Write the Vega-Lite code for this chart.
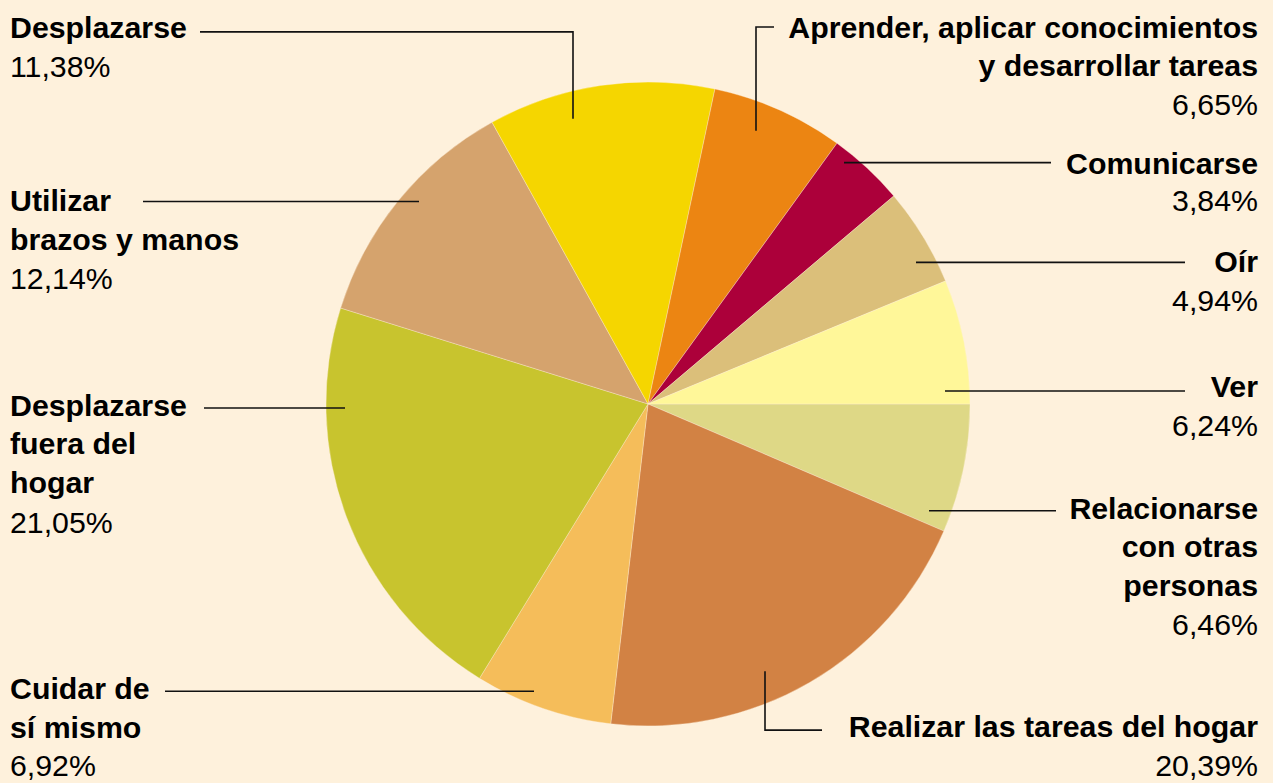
{
  "$schema": "https://vega.github.io/schema/vega-lite/v6.json",
  "width": 1273,
  "height": 783,
  "autosize": {"type": "fit", "contains": "padding"},
  "padding": 0,
  "background": "#FEF1DC",
  "config": {"view": {"stroke": null}},
  "datasets": {
    "sectores": [
      {"cat": "Relacionarse con otras personas", "pct": 6.46, "orden": 1},
      {"cat": "Realizar las tareas del hogar", "pct": 20.39, "orden": 2},
      {"cat": "Cuidar de sí mismo", "pct": 6.92, "orden": 3},
      {"cat": "Desplazarse fuera del hogar", "pct": 21.05, "orden": 4},
      {"cat": "Utilizar brazos y manos", "pct": 12.14, "orden": 5},
      {"cat": "Desplazarse", "pct": 11.38, "orden": 6},
      {"cat": "Aprender, aplicar conocimientos y desarrollar tareas", "pct": 6.65, "orden": 7},
      {"cat": "Comunicarse", "pct": 3.84, "orden": 8},
      {"cat": "Oír", "pct": 4.94, "orden": 9},
      {"cat": "Ver", "pct": 6.24, "orden": 10}
    ],
    "etiquetas": [
      {"cat": "Desplazarse", "lado": "izquierda", "nombre": ["Desplazarse"], "valor": "11,38%", "lx": -638, "ly": 367, "vy": 328},
      {"cat": "Utilizar brazos y manos", "lado": "izquierda", "nombre": ["Utilizar", "brazos y manos"], "valor": "12,14%", "lx": -638, "ly": 193, "vy": 115},
      {"cat": "Desplazarse fuera del hogar", "lado": "izquierda", "nombre": ["Desplazarse", "fuera del", "hogar"], "valor": "21,05%", "lx": -638, "ly": -12, "vy": -129},
      {"cat": "Cuidar de sí mismo", "lado": "izquierda", "nombre": ["Cuidar de", "sí mismo"], "valor": "6,92%", "lx": -638, "ly": -296, "vy": -373},
      {"cat": "Aprender, aplicar conocimientos y desarrollar tareas", "lado": "derecha", "nombre": ["Aprender, aplicar conocimientos", "y desarrollar tareas"], "valor": "6,65%", "lx": 610, "ly": 367, "vy": 290},
      {"cat": "Comunicarse", "lado": "derecha", "nombre": ["Comunicarse"], "valor": "3,84%", "lx": 610, "ly": 231, "vy": 193},
      {"cat": "Oír", "lado": "derecha", "nombre": ["Oír"], "valor": "4,94%", "lx": 610, "ly": 132, "vy": 93},
      {"cat": "Ver", "lado": "derecha", "nombre": ["Ver"], "valor": "6,24%", "lx": 610, "ly": 7, "vy": -32},
      {"cat": "Relacionarse con otras personas", "lado": "derecha", "nombre": ["Relacionarse", "con otras", "personas"], "valor": "6,46%", "lx": 610, "ly": -115, "vy": -232},
      {"cat": "Realizar las tareas del hogar", "lado": "derecha", "nombre": ["Realizar las tareas del hogar"], "valor": "20,39%", "lx": 610, "ly": -334, "vy": -373}
    ],
    "guias": [
      {"cat": "Desplazarse", "paso": 1, "gx": -448, "gy": 373},
      {"cat": "Desplazarse", "paso": 2, "gx": -75, "gy": 373},
      {"cat": "Desplazarse", "paso": 3, "gx": -75, "gy": 286},
      {"cat": "Aprender", "paso": 1, "gx": 126, "gy": 378},
      {"cat": "Aprender", "paso": 2, "gx": 108, "gy": 378},
      {"cat": "Aprender", "paso": 3, "gx": 108, "gy": 274},
      {"cat": "Comunicarse", "paso": 1, "gx": 403, "gy": 242},
      {"cat": "Comunicarse", "paso": 2, "gx": 196, "gy": 242},
      {"cat": "Oír", "paso": 1, "gx": 537, "gy": 142},
      {"cat": "Oír", "paso": 2, "gx": 268, "gy": 142},
      {"cat": "Ver", "paso": 1, "gx": 537, "gy": 13},
      {"cat": "Ver", "paso": 2, "gx": 297, "gy": 13},
      {"cat": "Relacionarse", "paso": 1, "gx": 408, "gy": -107},
      {"cat": "Relacionarse", "paso": 2, "gx": 281, "gy": -107},
      {"cat": "Realizar", "paso": 1, "gx": 174, "gy": -327},
      {"cat": "Realizar", "paso": 2, "gx": 117, "gy": -327},
      {"cat": "Realizar", "paso": 3, "gx": 117, "gy": -268},
      {"cat": "Cuidar", "paso": 1, "gx": -483, "gy": -288},
      {"cat": "Cuidar", "paso": 2, "gx": -114, "gy": -288},
      {"cat": "Desplazarse fuera", "paso": 1, "gx": -444, "gy": -4},
      {"cat": "Desplazarse fuera", "paso": 2, "gx": -303, "gy": -4},
      {"cat": "Utilizar", "paso": 1, "gx": -505, "gy": 203},
      {"cat": "Utilizar", "paso": 2, "gx": -229, "gy": 203}
    ]
  },
  "layer": [
    {
      "data": {"name": "sectores"},
      "mark": {"type": "arc", "outerRadius": 322, "stroke": "#FEF1DC", "strokeWidth": 0.35},
      "encoding": {
        "x": {"datum": 0, "type": "quantitative", "scale": {"domain": [-648, 625], "nice": false, "zero": false}, "axis": null},
        "y": {"datum": 0, "type": "quantitative", "scale": {"domain": [-378, 405], "nice": false, "zero": false}, "axis": null},
        "theta": {"field": "pct", "type": "quantitative", "stack": true, "scale": {"range": [1.5707963, 7.8539816]}},
        "order": {"field": "orden", "type": "quantitative"},
        "color": {
          "field": "cat",
          "type": "nominal",
          "legend": null,
          "scale": {
            "domain": ["Relacionarse con otras personas", "Realizar las tareas del hogar", "Cuidar de sí mismo", "Desplazarse fuera del hogar", "Utilizar brazos y manos", "Desplazarse", "Aprender, aplicar conocimientos y desarrollar tareas", "Comunicarse", "Oír", "Ver"],
            "range": ["#DED886", "#D28244", "#F5BD5A", "#C8C42E", "#D5A36D", "#F5D600", "#EC8512", "#AC003A", "#DBBF7A", "#FFF799"]
          }
        }
      }
    },
    {
      "data": {"name": "guias"},
      "mark": {"type": "line", "color": "#111111", "strokeWidth": 1.6, "strokeCap": "butt", "strokeJoin": "miter"},
      "encoding": {
        "x": {"field": "gx", "type": "quantitative", "scale": {"domain": [-648, 625], "nice": false, "zero": false}, "axis": null},
        "y": {"field": "gy", "type": "quantitative", "scale": {"domain": [-378, 405], "nice": false, "zero": false}, "axis": null},
        "detail": {"field": "cat"},
        "order": {"field": "paso", "type": "quantitative"}
      }
    },
    {
      "data": {"name": "etiquetas"},
      "transform": [{"filter": "datum.lado === 'izquierda'"}],
      "mark": {"type": "text", "font": "Liberation Sans", "fontSize": 30.3, "fontWeight": "bold", "align": "left", "baseline": "alphabetic", "lineHeight": 38.5, "color": "#000000"},
      "encoding": {
        "x": {"field": "lx", "type": "quantitative", "scale": {"domain": [-648, 625], "nice": false, "zero": false}, "axis": null},
        "y": {"field": "ly", "type": "quantitative", "scale": {"domain": [-378, 405], "nice": false, "zero": false}, "axis": null},
        "text": {"field": "nombre"}
      }
    },
    {
      "data": {"name": "etiquetas"},
      "transform": [{"filter": "datum.lado === 'izquierda'"}],
      "mark": {"type": "text", "font": "Liberation Sans", "fontSize": 30.3, "fontWeight": "normal", "align": "left", "baseline": "alphabetic", "color": "#000000"},
      "encoding": {
        "x": {"field": "lx", "type": "quantitative", "scale": {"domain": [-648, 625], "nice": false, "zero": false}, "axis": null},
        "y": {"field": "vy", "type": "quantitative", "scale": {"domain": [-378, 405], "nice": false, "zero": false}, "axis": null},
        "text": {"field": "valor"}
      }
    },
    {
      "data": {"name": "etiquetas"},
      "transform": [{"filter": "datum.lado === 'derecha'"}],
      "mark": {"type": "text", "font": "Liberation Sans", "fontSize": 30.3, "fontWeight": "bold", "align": "right", "baseline": "alphabetic", "lineHeight": 38.5, "color": "#000000"},
      "encoding": {
        "x": {"field": "lx", "type": "quantitative", "scale": {"domain": [-648, 625], "nice": false, "zero": false}, "axis": null},
        "y": {"field": "ly", "type": "quantitative", "scale": {"domain": [-378, 405], "nice": false, "zero": false}, "axis": null},
        "text": {"field": "nombre"}
      }
    },
    {
      "data": {"name": "etiquetas"},
      "transform": [{"filter": "datum.lado === 'derecha'"}],
      "mark": {"type": "text", "font": "Liberation Sans", "fontSize": 30.3, "fontWeight": "normal", "align": "right", "baseline": "alphabetic", "color": "#000000"},
      "encoding": {
        "x": {"field": "lx", "type": "quantitative", "scale": {"domain": [-648, 625], "nice": false, "zero": false}, "axis": null},
        "y": {"field": "vy", "type": "quantitative", "scale": {"domain": [-378, 405], "nice": false, "zero": false}, "axis": null},
        "text": {"field": "valor"}
      }
    }
  ]
}
